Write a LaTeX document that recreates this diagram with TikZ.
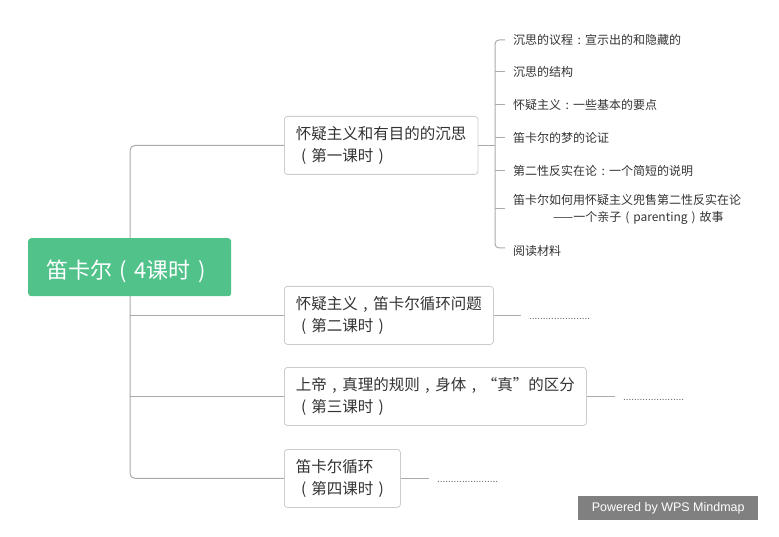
\documentclass[tikz,border=0pt]{standalone}
\usepackage{fontspec}
\setmainfont{Noto Sans CJK SC}
\newfontfamily\latinf{Liberation Sans}
\usetikzlibrary{calc}
\newcommand\zlp{\makebox[1em][c]{(}}
\newcommand\zrp{\makebox[1em][c]{)}}
\newcommand\zcm{\makebox[1em][c]{,}}
\newcommand\zcl{\makebox[1em][c]{:}}
\definecolor{rootgreen}{RGB}{82,194,139}
\definecolor{boxgray}{RGB}{204,204,204}
\definecolor{linegray}{RGB}{170,170,170}
\definecolor{txt}{RGB}{51,51,51}
\definecolor{wmgray}{RGB}{128,128,128}
\tikzset{
  rootbox/.style={fill=rootgreen, rounded corners=3pt, minimum width=203pt, minimum height=58pt,
    text=white, font=\fontsize{22}{26}\selectfont, inner sep=0pt, anchor=north west,
    text height=22.8pt, text depth=0pt},
  childbox/.style={draw=boxgray, fill=white, rounded corners=3pt, align=left, text=txt,
    font=\fontsize{15.5}{22}\selectfont, anchor=north west, inner xsep=11.5pt, inner ysep=0pt,
    minimum height=58pt, line width=0.8pt},
  itemtext/.style={anchor=west, align=left, text=txt, font=\fontsize{12}{17}\selectfont, inner sep=0pt},
  conn/.style={draw=linegray, line width=1pt},
  dotstext/.style={anchor=base west, inner sep=0pt, text=txt!80, font=\latinf\fontsize{10}{12}\selectfont},
  wmbox/.style={fill=wmgray, text=white, font=\latinf\fontsize{12.5}{15}\selectfont, minimum width=180pt,
    minimum height=24pt, inner sep=0pt, anchor=north west}
}
\begin{document}
\begin{tikzpicture}[x=1pt,y=-1pt]
\useasboundingbox (0,0) rectangle (779,537);
% children
\node[childbox] (c1) at (284,116) {怀疑主义和有目的的沉思\\\zlp 第一课时\zrp};
\node[childbox] (c2) at (284,286) {怀疑主义\zcm 笛卡尔循环问题\\\zlp 第二课时\zrp};
\node[childbox] (c3) at (284,367) {上帝\zcm 真理的规则\zcm 身体\zcm “真”的区分\\\zlp 第三课时\zrp};
\node[childbox] (c4) at (284,449) {笛卡尔循环\\\zlp 第四课时\zrp};
% trunk
\coordinate (tk) at (130,0);
\draw[conn, rounded corners=5pt] (c1.west) -| (tk |- c4.west) -- (c4.west);
\draw[conn] (tk |- c2.west) -- (c2.west);
\draw[conn] (tk |- c3.west) -- (c3.west);
% root
\node[rootbox] (root) at (28,238) {笛卡尔\zlp 4课时\zrp};
% sub items
\node[itemtext] (i1) at (513,40) {沉思的议程\zcl 宣示出的和隐藏的};
\node[itemtext] (i2) at (513,72) {沉思的结构};
\node[itemtext] (i3) at (513,105) {怀疑主义\zcl 一些基本的要点};
\node[itemtext] (i4) at (513,138) {笛卡尔的梦的论证};
\node[itemtext] (i5) at (513,171) {第二性反实在论\zcl 一个简短的说明};
\node[itemtext] (i6) at (513,209) {笛卡尔如何用怀疑主义兜售第二性反实在论\\\hspace*{40pt}——一个亲子\zlp parenting\zrp 故事};
\node[itemtext] (i7) at (513,251) {阅读材料};
\coordinate (bx) at (495,0);
\draw[conn] (c1.east) -- (bx |- c1.east);
\draw[conn, rounded corners=4pt] ($(i1.west)+(-8,0)$) -| ($(bx |- i7.west)+(0,-3)$) -- ($(i7.west)+(-8,-3)$);
\foreach \k in {2,3,4,5,6}{
  \draw[conn] (bx |- i\k.west) -- ($(i\k.west)+(-8,0)$);
}
% leaf lines with dots
\draw[conn] (c2.east) -- ++(27,0) coordinate (d2);
\node[dotstext] (t2) at ($(d2)+(8,4)$) {......................};
\draw[conn] (c3.east) -- ++(28,0) coordinate (d3);
\node[dotstext] (t3) at ($(d3)+(8,4)$) {......................};
\draw[conn] (c4.east) -- ++(28,0) coordinate (d4);
\node[dotstext] (t4) at ($(d4)+(8,4)$) {......................};
% watermark
\node[wmbox] (wm) at (578,496) {Powered by WPS Mindmap};
\end{tikzpicture}
\end{document}
